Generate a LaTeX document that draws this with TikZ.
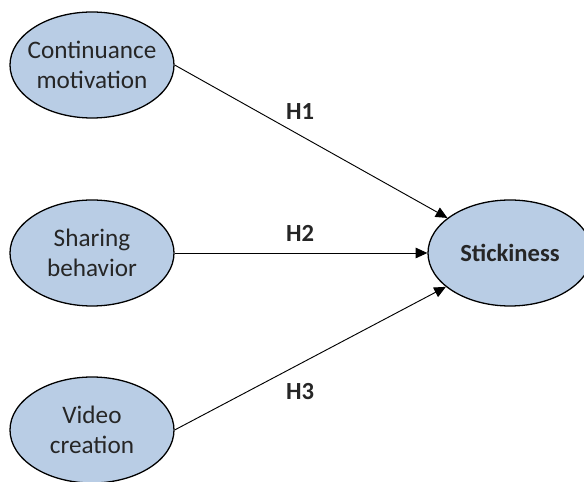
\documentclass[tikz,border=0pt]{standalone}
\usepackage{fontspec}
\setmainfont{Carlito}
\usetikzlibrary{arrows.meta,shapes.geometric}
\definecolor{varfill}{RGB}{185,205,229}
\definecolor{vartext}{RGB}{38,38,38}
\tikzset{
  var/.style={ellipse,draw,line width=1.1pt,fill=varfill,text=vartext,
    minimum width=4.92cm,minimum height=3.18cm,inner xsep=-8pt,inner ysep=0pt,align=center,
    font=\fontsize{21.5}{25.5}\selectfont},
  hyp/.style={text=vartext,font=\fontsize{21}{25}\selectfont\bfseries},
  effect/.style={-{Triangle[length=10pt,width=9pt]},line width=0.8pt}
}
\begin{document}
\begin{tikzpicture}
            \useasboundingbox(0,0)rectangle(17.52,14.43);
            \node[var](1)at(2.76,12.48){Continuance\\motivation};
            \node[var](2)at(2.76,6.84){Sharing\\behavior};
            \node[var](3)at(2.76,1.53){Video\\creation};
            \node[var,font=\fontsize{21}{25}\selectfont\bfseries](4)at(15.3,6.84){Stickiness};
            \node[hyp](h1)at(9.0,11.07){H1};
            \node[hyp](h2)at(9.0,7.44){H2};
            \node[hyp](h3)at(9.0,2.67){H3};
            \draw[effect](1.east)--(4);
            \draw[effect](2.east)--(4);
            \draw[effect](3.east)--(4);
        \end{tikzpicture}
\end{document}
